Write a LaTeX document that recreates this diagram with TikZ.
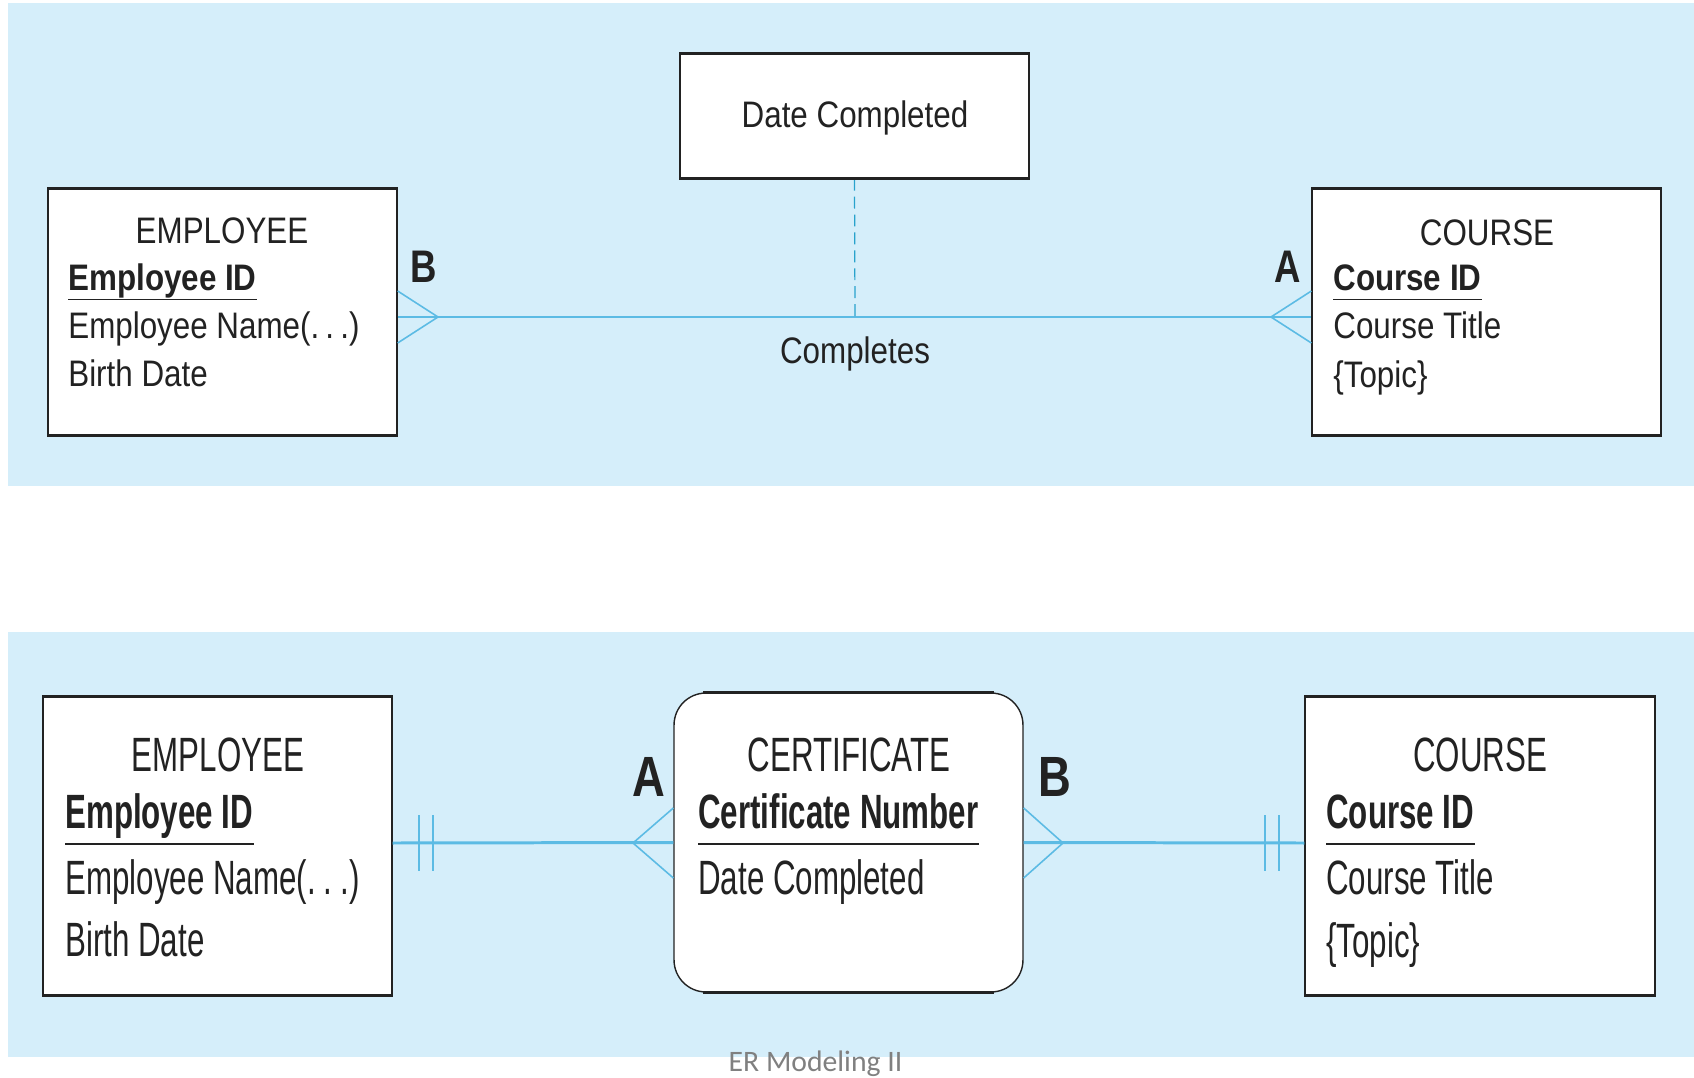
\documentclass[tikz,border=0pt]{standalone}
\usepackage{fontspec}
\setmainfont{Liberation Sans}
\newfontfamily\topfont[FakeStretch=0.85]{Liberation Sans}
\newfontfamily\botfont[FakeStretch=0.65]{Liberation Sans}
\newfontfamily\letfont[FakeStretch=0.8]{Liberation Sans}
\newfontfamily\notefont{Carlito}
\usetikzlibrary{calc,positioning}
\definecolor{panelblue}{RGB}{213,238,250}
\definecolor{relblue}{RGB}{92,187,228}
\definecolor{dashblue}{RGB}{40,162,204}
\definecolor{inkgray}{RGB}{34,34,34}
\definecolor{notegray}{RGB}{128,128,128}
\tikzset{
entity/.style={
  rectangle,
  line width=0.8pt,
  draw=inkgray,
  fill=white,
  inner sep=0pt,
  minimum width=6.98cm,
  }
}
\tikzset{
enttitle/.style={anchor=base, inner sep=0pt, text=inkgray},
attr/.style={anchor=base west, inner sep=0pt, text=inkgray},
topsize/.style={font=\fontsize{21pt}{25pt}\topfont},
botsize/.style={font=\fontsize{27.4pt}{31pt}\botfont},
lettop/.style={inner sep=0pt, text=inkgray, font=\fontsize{26pt}{30pt}\letfont\bfseries},
letbot/.style={inner sep=0pt, text=inkgray, font=\fontsize{32.3pt}{36pt}\letfont\bfseries},
edgeline/.style={line width=1.6pt, draw=inkgray},
keyline/.style={line width=0.9pt, draw=inkgray},
relline/.style={line width=1.7pt, draw=relblue},
footline/.style={line width=0.9pt, draw=relblue},
barline/.style={line width=1.1pt, draw=relblue},
dashline/.style={line width=0.7pt, draw=dashblue, dash pattern=on 6.8pt off 3.4pt}
}

\begin{document}
\begin{tikzpicture}[x=0.02cm, y=-0.02cm]
    \useasboundingbox (0,0) rectangle (1694,1078);
    \fill[panelblue] (8,3) rectangle (1694,486);
    \fill[panelblue] (8,632) rectangle (1694,1057);

    % top part: relationship with attribute
    \node[entity, minimum height=4.92cm] (emp_a) at (222.5,312) {};
    \node[entity, minimum height=4.92cm] (crs_a) at (1486.5,312) {};
    \node[entity, minimum height=2.48cm] (date_a) at (854.5,116) {};

    \node[enttitle, topsize] (emp_a_t) at (222,243) {EMPLOYEE};
    \node[attr, topsize] (emp_a_id) at (68,290) {\bfseries Employee ID};
    \node[attr, topsize] (emp_a_nm) at (68,338) {Employee Name(.\,.\,.)};
    \node[attr, topsize] (emp_a_bd) at (68,386) {Birth Date};

    \node[enttitle, topsize] (crs_a_t) at (1487,245) {COURSE};
    \node[attr, topsize] (crs_a_id) at (1333,290) {\bfseries Course ID};
    \node[attr, topsize] (crs_a_tt) at (1333,338) {Course Title};
    \node[attr, topsize] (crs_a_tp) at (1333,387) {\{Topic\}};

    \node[enttitle, topsize] (date_a_t) at (855,128) {Date Completed};
    \node[enttitle, topsize] (rel_a) at (855,363) {Completes};
    \node[lettop] (card_a1) at (424,267) {B};
    \node[lettop] (card_a2) at (1288,267) {A};

    \coordinate (tip_a1) at (438,317);
    \coordinate (tip_a2) at (1271,317);
    \coordinate (mid_a) at (855,317);

    % top edges
    \draw[relline] ([yshift=-0.1cm]emp_a.east) -- ([yshift=-0.1cm]crs_a.west);
    \draw[footline] ([yshift=0.42cm]emp_a.east) -- (tip_a1) -- ([yshift=-0.62cm]emp_a.east);
    \draw[footline] ([yshift=0.42cm]crs_a.west) -- (tip_a2) -- ([yshift=-0.62cm]crs_a.west);
    \draw[dashline] (date_a.south) -- (mid_a);

    % bottom part: associative entity
    \node[entity, minimum height=5.96cm] (emp_b) at (217.5,846) {};
    \node[entity, minimum height=5.98cm, rounded corners=0.64cm] (cert_b) at (848.5,842.5) {};
    \node[entity, minimum height=5.96cm, minimum width=7cm] (crs_b) at (1480,846) {};

    \node[enttitle, botsize] (emp_b_t) at (218,771) {EMPLOYEE};
    \node[attr, botsize] (emp_b_id) at (65,828) {\bfseries Employee ID};
    \node[attr, botsize] (emp_b_nm) at (65,894) {Employee Name(.\,.\,.)};
    \node[attr, botsize] (emp_b_bd) at (65,956) {Birth Date};

    \node[enttitle, botsize] (cert_b_t) at (849,771) {CERTIFICATE};
    \node[attr, botsize] (cert_b_id) at (698,828) {\bfseries Certificate Number};
    \node[attr, botsize] (cert_b_dc) at (698,894) {Date Completed};

    \node[enttitle, botsize] (crs_b_t) at (1480,771) {COURSE};
    \node[attr, botsize] (crs_b_id) at (1326,828) {\bfseries Course ID};
    \node[attr, botsize] (crs_b_tt) at (1326,894) {Course Title};
    \node[attr, botsize] (crs_b_tp) at (1326,957) {\{Topic\}};

    \node[letbot] (card_b1) at (649,777) {A};
    \node[letbot] (card_b2) at (1055,777) {B};

    \coordinate (tip_b1) at (633,843);
    \coordinate (tip_b2) at (1063,843);

    % bottom edges
    \draw[relline] ([yshift=0.06cm]emp_b.east) -- (cert_b.west);
    \draw[relline] (cert_b.east) -- ([yshift=0.06cm]crs_b.west);
    \draw[footline] ([yshift=0.69cm]cert_b.west) -- (tip_b1) -- ([yshift=-0.71cm]cert_b.west);
    \draw[footline] ([yshift=0.69cm]cert_b.east) -- (tip_b2) -- ([yshift=-0.71cm]cert_b.east);
    \foreach \dx in {0.52,0.8}
      \draw[barline] ([xshift=\dx cm,yshift=0.62cm]emp_b.east) -- ([xshift=\dx cm,yshift=-0.5cm]emp_b.east);
    \foreach \dx in {-0.78,-0.5}
      \draw[barline] ([xshift=\dx cm,yshift=0.62cm]crs_b.west) -- ([xshift=\dx cm,yshift=-0.5cm]crs_b.west);

    % key underlines and heavy box edges
    \foreach \k/\d in {emp_a_id/0.19,crs_a_id/0.19,emp_b_id/0.32,cert_b_id/0.32,crs_b_id/0.32}
      \draw[keyline] ([yshift=-\d cm]\k.base west) -- ([yshift=-\d cm]\k.base east);
    \foreach \n in {emp_a,crs_a,date_a,emp_b,crs_b}
      \draw[edgeline] (\n.north west) -- (\n.north east) (\n.south west) -- (\n.south east);
    \draw[edgeline, shorten <=0.6cm, shorten >=0.6cm] (cert_b.north west) -- (cert_b.north east);
    \draw[edgeline, shorten <=0.6cm, shorten >=0.6cm] (cert_b.south west) -- (cert_b.south east);

    \node[anchor=base, inner sep=0pt, text=notegray, font=\fontsize{16.9pt}{20pt}\notefont] (note) at (815.5,1071) {ER Modeling II};
\end{tikzpicture}
\end{document}
